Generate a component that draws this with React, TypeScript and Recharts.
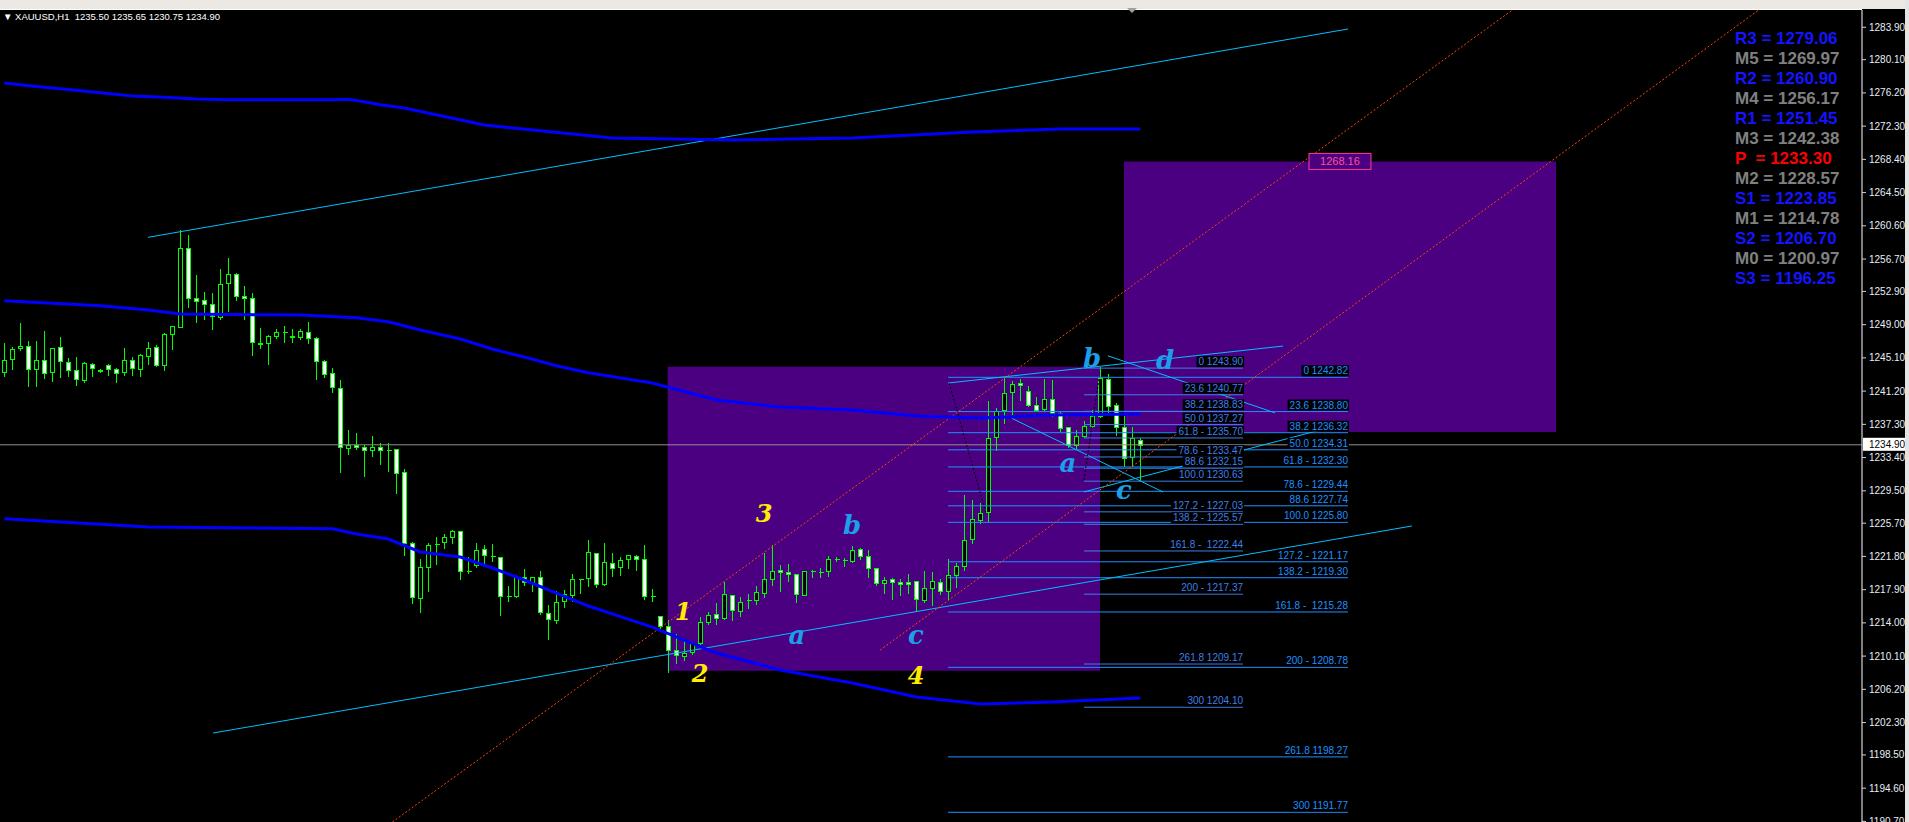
import React from 'react';
import {
  Bar,
  ComposedChart,
  Line,
  ReferenceArea,
  ReferenceDot,
  ReferenceLine,
  XAxis,
  YAxis,
} from 'recharts';

const W = 1909;
const H = 822;
const FONT = '"Liberation Sans", Arial, sans-serif';
const LIME = '#00ff00';
const YELLOW = '#ffec00';
const WAVE_BLUE = '#1c9ee8';
const CYAN = '#00bfff';
const FIB_A = '#3f7fe6';
const FIB_B = '#1e90ff';

// price window and bar-index window of the visible chart
const Y_MIN = 1190.63;
const Y_MAX = 1285.93;
const X_MIN = -0.5375;
const X_MAX = 232.2125;

const priceTicks = [
  1283.9, 1280.1, 1276.2, 1272.3, 1268.4, 1264.5, 1260.6, 1256.7, 1252.9, 1249.0, 1245.1, 1241.2,
  1237.3, 1233.4, 1229.5, 1225.7, 1221.8, 1217.9, 1214.0, 1210.1, 1206.2, 1202.3, 1198.5, 1194.6,
  1190.7,
];

// XAUUSD H1 bars: open, high, low, close
const ohlc: [number, number, number, number][] = [
  [1243.4, 1246.84, 1243.01, 1244.81],
  [1244.93, 1246.41, 1243.79, 1246.1],
  [1246.22, 1249.19, 1246.02, 1246.45],
  [1246.45, 1247.08, 1241.84, 1243.75],
  [1243.75, 1247.08, 1241.84, 1244.81],
  [1244.81, 1248.25, 1242.77, 1243.28],
  [1243.4, 1246.22, 1242.42, 1246.22],
  [1246.33, 1247.55, 1242.89, 1244.69],
  [1244.57, 1245.04, 1243.01, 1243.64],
  [1243.64, 1245.2, 1241.95, 1242.58],
  [1242.54, 1244.57, 1242.31, 1244.46],
  [1244.34, 1244.46, 1243.01, 1243.87],
  [1243.71, 1243.83, 1243.4, 1243.52],
  [1244.22, 1244.34, 1243.13, 1243.75],
  [1243.75, 1243.87, 1242.31, 1243.28],
  [1243.4, 1246.26, 1243.13, 1244.81],
  [1244.81, 1245.2, 1243.13, 1243.87],
  [1243.75, 1245.51, 1243.01, 1245.4],
  [1245.28, 1246.96, 1244.34, 1246.22],
  [1246.33, 1246.57, 1244.18, 1244.22],
  [1244.22, 1247.98, 1243.71, 1247.9],
  [1247.86, 1248.84, 1246.18, 1248.84],
  [1248.76, 1260.11, 1248.76, 1257.95],
  [1257.95, 1259.52, 1251.11, 1252.09],
  [1252.09, 1254.82, 1249.35, 1251.73],
  [1251.85, 1252.83, 1249.7, 1251.38],
  [1251.38, 1252.71, 1248.53, 1249.97],
  [1249.86, 1255.53, 1249.62, 1253.73],
  [1253.85, 1256.82, 1250.64, 1254.9],
  [1254.9, 1255.06, 1251.93, 1252.32],
  [1252.32, 1253.53, 1249.62, 1252.09],
  [1252.09, 1252.71, 1245.47, 1246.92],
  [1246.8, 1248.6, 1246.3, 1246.78],
  [1246.8, 1247.74, 1244.42, 1247.63],
  [1247.63, 1248.49, 1247.47, 1248.1],
  [1248.1, 1248.84, 1247.0, 1248.1],
  [1247.59, 1248.49, 1247.0, 1247.62],
  [1247.51, 1248.45, 1247.35, 1248.21],
  [1248.1, 1249.31, 1246.88, 1247.39],
  [1247.39, 1247.51, 1242.66, 1244.69],
  [1244.69, 1244.85, 1242.89, 1243.17],
  [1243.28, 1243.91, 1241.13, 1241.64],
  [1241.52, 1242.5, 1231.74, 1234.6],
  [1234.48, 1236.63, 1233.82, 1234.83],
  [1234.83, 1236.28, 1234.44, 1234.6],
  [1234.6, 1234.83, 1231.27, 1234.25],
  [1234.25, 1235.93, 1233.62, 1234.6],
  [1234.6, 1235.11, 1232.68, 1234.25],
  [1234.3, 1235.11, 1231.86, 1234.28],
  [1234.36, 1234.36, 1229.28, 1231.55],
  [1231.67, 1232.02, 1222.0, 1223.33],
  [1223.33, 1223.45, 1216.29, 1216.99],
  [1216.88, 1221.45, 1215.31, 1220.51],
  [1220.51, 1223.33, 1217.78, 1223.1],
  [1223.26, 1224.04, 1220.94, 1223.24],
  [1223.45, 1224.39, 1222.82, 1224.04],
  [1224.04, 1224.9, 1223.33, 1224.74],
  [1224.74, 1224.74, 1219.11, 1220.04],
  [1220.06, 1221.69, 1219.81, 1220.04],
  [1220.75, 1223.33, 1220.51, 1222.51],
  [1222.63, 1223.1, 1220.98, 1221.92],
  [1221.82, 1223.21, 1221.22, 1221.8],
  [1221.69, 1221.69, 1214.88, 1217.11],
  [1217.13, 1218.28, 1216.52, 1217.11],
  [1217.11, 1219.46, 1216.99, 1219.34],
  [1219.34, 1220.28, 1218.4, 1218.75],
  [1218.75, 1219.34, 1217.7, 1219.34],
  [1219.34, 1220.04, 1215.0, 1215.23],
  [1215.11, 1216.05, 1212.07, 1214.41],
  [1214.29, 1217.7, 1213.94, 1216.41],
  [1216.52, 1217.81, 1215.82, 1217.35],
  [1217.23, 1219.69, 1216.52, 1219.11],
  [1219.11, 1219.2, 1217.54, 1219.12],
  [1219.22, 1223.68, 1218.28, 1222.27],
  [1222.16, 1222.16, 1218.17, 1218.52],
  [1218.52, 1223.33, 1218.4, 1221.1],
  [1220.99, 1222.16, 1219.46, 1220.4],
  [1220.52, 1221.69, 1219.58, 1221.34],
  [1221.46, 1221.93, 1220.4, 1221.93],
  [1221.81, 1221.93, 1220.17, 1221.46],
  [1221.46, 1223.1, 1216.76, 1217.11],
  [1217.13, 1217.93, 1216.53, 1217.11],
  [1214.77, 1214.77, 1213.36, 1213.67],
  [1213.59, 1214.3, 1208.27, 1210.78],
  [1210.78, 1212.65, 1209.25, 1210.19],
  [1210.07, 1211.83, 1209.68, 1210.42],
  [1210.54, 1211.6, 1210.31, 1211.6],
  [1211.6, 1214.65, 1211.48, 1214.06],
  [1214.06, 1215.23, 1213.83, 1214.88],
  [1215.0, 1216.29, 1213.83, 1214.53],
  [1214.53, 1218.76, 1214.41, 1217.35],
  [1217.23, 1217.23, 1214.3, 1215.47],
  [1215.35, 1217.0, 1214.77, 1216.41],
  [1216.65, 1217.35, 1215.7, 1216.64],
  [1216.64, 1218.29, 1216.17, 1217.58],
  [1217.47, 1222.16, 1217.0, 1219.11],
  [1219.11, 1223.1, 1218.4, 1220.05],
  [1220.17, 1220.75, 1217.7, 1219.93],
  [1219.93, 1220.87, 1218.87, 1219.7],
  [1219.7, 1219.7, 1216.41, 1217.35],
  [1217.23, 1220.05, 1217.23, 1220.05],
  [1220.05, 1220.17, 1219.34, 1220.06],
  [1219.94, 1220.4, 1219.34, 1219.93],
  [1220.05, 1221.81, 1219.46, 1221.46],
  [1221.46, 1221.69, 1221.22, 1221.47],
  [1221.34, 1221.58, 1220.63, 1221.35],
  [1221.22, 1222.98, 1221.1, 1222.51],
  [1222.63, 1222.75, 1221.46, 1221.81],
  [1221.81, 1222.51, 1219.34, 1220.4],
  [1220.4, 1220.4, 1218.4, 1218.64],
  [1218.64, 1219.42, 1217.46, 1218.99],
  [1219.1, 1219.22, 1216.76, 1218.75],
  [1218.75, 1219.1, 1217.22, 1218.52],
  [1218.75, 1219.69, 1217.46, 1218.52],
  [1218.87, 1218.87, 1215.35, 1216.76],
  [1216.64, 1220.04, 1216.41, 1218.05],
  [1218.05, 1219.93, 1216.05, 1218.87],
  [1218.75, 1219.1, 1217.34, 1217.7],
  [1217.7, 1221.45, 1216.76, 1219.57],
  [1219.57, 1220.98, 1218.17, 1220.63],
  [1220.63, 1228.96, 1220.16, 1223.68],
  [1223.8, 1228.38, 1223.33, 1226.15],
  [1226.03, 1228.02, 1225.68, 1226.85],
  [1226.97, 1239.99, 1225.91, 1235.65],
  [1235.77, 1239.17, 1234.24, 1238.82],
  [1238.94, 1242.7, 1237.41, 1240.93],
  [1241.05, 1242.34, 1238.12, 1241.99],
  [1242.11, 1242.58, 1240.11, 1241.87],
  [1241.17, 1241.76, 1239.41, 1239.53],
  [1239.53, 1240.47, 1238.82, 1238.94],
  [1239.06, 1242.58, 1238.94, 1240.23],
  [1240.23, 1242.46, 1238.24, 1238.59],
  [1238.59, 1238.82, 1236.48, 1236.83],
  [1236.94, 1236.94, 1234.6, 1234.83],
  [1234.83, 1236.59, 1234.48, 1235.89],
  [1235.89, 1237.65, 1235.77, 1237.06],
  [1237.06, 1238.94, 1236.94, 1238.24],
  [1238.24, 1243.99, 1238.12, 1242.7],
  [1242.58, 1243.17, 1238.71, 1239.41],
  [1239.53, 1239.76, 1236.01, 1236.94],
  [1236.94, 1238.24, 1232.37, 1233.31],
  [1233.42, 1236.94, 1232.37, 1235.65],
  [1235.5, 1235.65, 1230.75, 1234.9],
];

// moving-average envelope, [bar index, price]
const maUpper: [number, number][] = [
  [0, 1277.36], [4, 1276.95], [8, 1276.6], [12, 1276.22], [16, 1275.83], [20, 1275.68],
  [24, 1275.48], [28, 1275.4], [41, 1275.4], [43, 1275.45], [45, 1275.17], [47, 1274.8],
  [50, 1274.43], [60, 1272.43], [76, 1270.9], [91, 1270.67], [106, 1270.9], [121, 1271.61],
  [132, 1271.96], [142, 1271.96],
];
const maMiddle: [number, number][] = [
  [0, 1251.81], [12, 1251.22], [18, 1250.72], [22, 1250.25], [37, 1250.13], [44, 1249.82],
  [48, 1249.35], [52, 1248.37], [57, 1247.31], [61, 1246.14], [65, 1245.2], [69, 1244.18],
  [73, 1243.36], [81, 1242.15], [89, 1240.16], [97, 1239.33], [106, 1238.98], [114, 1238.28],
  [122, 1238.04], [131, 1238.39], [142, 1238.51],
];
const maLower: [number, number][] = [
  [0, 1226.22], [18, 1225.25], [41, 1225.05], [44, 1224.43], [48, 1223.84], [52, 1222.32],
  [57, 1221.73], [61, 1220.44], [65, 1219.03], [69, 1217.5], [73, 1215.98], [81, 1213.51],
  [89, 1210.46], [97, 1208.47], [106, 1206.94], [114, 1205.3], [122, 1204.48], [131, 1204.71],
  [142, 1205.18],
];

// fibonacci sets: labels and prices, drawn between two bar indexes
const fibLabelsA = [
  '0 1243.90', '23.6 1240.77', '38.2 1238.83', '50.0 1237.27', '61.8 - 1235.70', '78.6 - 1233.47',
  '88.6 1232.15', '100.0 1230.63', '127.2 - 1227.03', '138.2 - 1225.57', '161.8 -  1222.44',
  '200 - 1217.37', '261.8 1209.17', '300 1204.10',
];
const fibPricesA = [
  1243.9, 1240.77, 1238.83, 1237.27, 1235.7, 1233.47, 1232.15, 1230.63, 1227.03, 1225.57, 1222.44,
  1217.37, 1209.17, 1204.1,
];
const fibSpanA: [number, number] = [134.96, 154.84];

const fibLabelsB = [
  '0 1242.82', '23.6 1238.80', '38.2 1236.32', '50.0 1234.31', '61.8 - 1232.30', '78.6 - 1229.44',
  '88.6 1227.74', '100.0 1225.80', '127.2 - 1221.17', '138.2 - 1219.30', '161.8 -  1215.28',
  '200 - 1208.78', '261.8 1198.27', '300 1191.77',
];
const fibPricesB = [
  1242.82, 1238.8, 1236.32, 1234.31, 1232.3, 1229.44, 1227.74, 1225.8, 1221.17, 1219.3, 1215.28,
  1208.78, 1198.27, 1191.77,
];
const fibSpanB: [number, number] = [117.97, 167.96];

// trend lines as [[i1, p1], [i2, p2]]
const cyanLines: [number, number][][] = [
  [[17.96, 1259.25], [167.96, 1283.7]],
  [[26.09, 1201.07], [175.96, 1225.37]],
  [[117.96, 1242.15], [159.84, 1246.49]],
  [[137.96, 1245.34], [158.83, 1238.65]],
  [[125.96, 1238.0], [144.84, 1229.36]],
  [[134.96, 1229.37], [166.96, 1237.24]],
];
const channelLines: [number, number][][] = [
  [[48.51, 1190.63], [188.51, 1285.93]],
  [[109.46, 1210.8], [219.3, 1285.93]],
];
const zigzagLines: [number, number][][] = [
  [[118.13, 1242.11], [122.71, 1226.85]],
  [[134.96, 1230.77], [136.84, 1242.7]],
];

// target zones: [i1, i2, p1, p2]
const zones: [number, number, number, number][] = [
  [82.92, 136.96, 1208.38, 1244.06],
  [139.96, 193.97, 1236.4, 1268.16],
];
const zoneTarget = 1268.16;

// Elliott wave marks: text, bar index, price
const waveDigits: [string, number, number][] = [
  ['1', 84.84, 1215.38],
  ['2', 86.96, 1208.1],
  ['3', 94.96, 1226.88],
  ['4', 113.96, 1207.87],
];
const waveLetters: [string, number, number][] = [
  ['a', 99.09, 1212.57],
  ['b', 105.96, 1225.48],
  ['c', 113.96, 1212.57],
  ['a', 132.96, 1232.76],
  ['b', 135.96, 1245.08],
  ['c', 139.96, 1229.6],
  ['d', 145.09, 1244.85],
];

const pivotNames = ['R3', 'M5', 'R2', 'M4', 'R1', 'M3', 'P', 'M2', 'S1', 'M1', 'S2', 'M0', 'S3'];
const pivotValues = [
  1279.06, 1269.97, 1260.9, 1256.17, 1251.45, 1242.38, 1233.3, 1228.57, 1223.85, 1214.78, 1206.7,
  1200.97, 1196.25,
];

const lastPrice = 1234.9;
const header = 'XAUUSD,H1  1235.50 1235.65 1230.75 1234.90';

type Row = {
  i: number;
  o: number;
  h: number;
  l: number;
  c: number;
  maU?: number;
  maM?: number;
  maL?: number;
};

const rows: Row[] = ohlc.map(([o, h, l, c], i) => ({ i, o, h, l, c }));
maUpper.forEach(([i, v]) => (rows[i].maU = v));
maMiddle.forEach(([i, v]) => (rows[i].maM = v));
maLower.forEach(([i, v]) => (rows[i].maL = v));

const charW: Record<string, number> = { '.': 0.278, ' ': 0.278, '-': 0.333 };
const textWidth = (s: string, size: number) =>
  s.split('').reduce((w, ch) => w + (charW[ch] ?? 0.556) * size, 0);

function Candle(props: any) {
  const { x, y, width, height, payload } = props;
  if (!payload || height == null) return null;
  const { o, h, l, c } = payload as Row;
  const top = height >= 0 ? y : y + height;
  const k = Math.abs(height) / (h - l);
  const py = (v: number) => top + (h - v) * k;
  const cx = Math.round(x + width / 2) + 0.5;
  const bTop = Math.round(py(Math.max(o, c))) + 0.5;
  const bBot = Math.round(py(Math.min(o, c))) + 0.5;
  return (
    <g shapeRendering="crispEdges">
      <line x1={cx} x2={cx} y1={Math.round(top)} y2={Math.round(py(l)) + 1} stroke={LIME} />
      {bBot - bTop < 1 ? (
        <line x1={cx - 2} x2={cx + 3} y1={bTop} y2={bTop} stroke={LIME} />
      ) : (
        <rect
          x={cx - 2}
          y={bTop}
          width={4}
          height={bBot - bTop}
          fill={c >= o ? '#000' : '#fff'}
          stroke={LIME}
        />
      )}
    </g>
  );
}

function PriceTick(props: any) {
  const { x, y, payload } = props;
  return (
    <g>
      <line x1={x} x2={x + 4} y1={y} y2={y} stroke="#d0d0d0" />
      <text x={x + 7} y={y + 3.5} fontSize={10} fill="#e8eef6" fontFamily={FONT}>
        {payload.value.toFixed(2)}
      </text>
    </g>
  );
}

const fibTag = (text: string, color: string) => (props: any) => {
  const { cx, cy } = props;
  const w = textWidth(text, 10);
  return (
    <g>
      <rect x={cx - w - 2} y={cy - 12} width={w + 3} height={11} fill="#000" />
      <text
        x={cx}
        y={cy - 3}
        textAnchor="end"
        fontSize={10}
        fill={color}
        fontFamily={FONT}
        style={{ whiteSpace: 'pre' }}
      >
        {text}
      </text>
    </g>
  );
};

const waveTag = (text: string, color: string, size: number) => (props: any) => (
  <text
    x={props.cx}
    y={props.cy}
    textAnchor="middle"
    dominantBaseline="central"
    fontSize={size}
    fontStyle="italic"
    fontWeight="bold"
    fontFamily='"DejaVu Serif", serif'
    fill={color}
  >
    {text}
  </text>
);

const targetTag = (props: any) => {
  const { cx, cy } = props;
  return (
    <g>
      <rect x={cx - 31} y={cy - 8} width={62} height={16} fill="#4b0082" stroke="#ff3c8c" />
      <text x={cx} y={cy + 4} textAnchor="middle" fontSize={11} fill="#ff4f9a" fontFamily={FONT}>
        {zoneTarget.toFixed(2)}
      </text>
    </g>
  );
};

const lastPriceTag = (props: any) => {
  const { cx, cy } = props;
  return (
    <g>
      <rect x={cx + 1} y={cy - 7} width={42} height={13} fill="#fff" />
      <text x={cx + 7} y={cy + 3.5} fontSize={10} fill="#000" fontFamily={FONT}>
        {lastPrice.toFixed(2)}
      </text>
    </g>
  );
};

const pivotColor = (name: string) =>
  name === 'P' ? '#ff0000' : name.startsWith('M') ? '#808080' : '#1414ff';

export default function App() {
  return (
    <div
      style={{
        position: 'fixed',
        left: 0,
        top: 0,
        width: W,
        height: H,
        background: '#000',
        overflow: 'hidden',
      }}
    >
      <ComposedChart
        width={W}
        height={H}
        data={rows}
        margin={{ top: 10, right: 0, bottom: 0, left: 0 }}
      >
        <XAxis
          dataKey="i"
          type="number"
          domain={[X_MIN, X_MAX]}
          allowDataOverflow
          hide
        />
        <YAxis
          orientation="right"
          width={47}
          domain={[Y_MIN, Y_MAX]}
          allowDataOverflow
          ticks={priceTicks}
          interval={0}
          tickSize={0}
          tickMargin={0}
          tick={<PriceTick />}
          axisLine={{ stroke: '#fff' }}
          tickLine={false}
        />

        {zones.map(([x1, x2, y1, y2], k) => (
          <ReferenceArea
            key={`z${k}`}
            x1={x1}
            x2={x2}
            y1={y1}
            y2={y2}
            fill="#4b0082"
            fillOpacity={1}
            stroke="none"
            ifOverflow="hidden"
          />
        ))}

        {fibPricesB.map((p, k) => (
          <ReferenceLine
            key={`fb${k}`}
            segment={[{ x: fibSpanB[0], y: p }, { x: fibSpanB[1], y: p }]}
            stroke={FIB_B}
            ifOverflow="hidden"
          />
        ))}
        {fibPricesA.map((p, k) => (
          <ReferenceLine
            key={`fa${k}`}
            segment={[{ x: fibSpanA[0], y: p }, { x: fibSpanA[1], y: p }]}
            stroke={FIB_A}
            ifOverflow="hidden"
          />
        ))}
        {fibPricesB.map((p, k) => (
          <ReferenceDot
            key={`fbl${k}`}
            x={fibSpanB[1]}
            y={p}
            r={1}
            ifOverflow="visible"
            shape={fibTag(fibLabelsB[k], FIB_B)}
          />
        ))}
        {fibPricesA.map((p, k) => (
          <ReferenceDot
            key={`fal${k}`}
            x={fibSpanA[1]}
            y={p}
            r={1}
            ifOverflow="visible"
            shape={fibTag(fibLabelsA[k], FIB_A)}
          />
        ))}

        <ReferenceLine y={lastPrice} stroke="#8f8f8f" ifOverflow="hidden" />

        {cyanLines.map(([a, b], k) => (
          <ReferenceLine
            key={`cy${k}`}
            segment={[{ x: a[0], y: a[1] }, { x: b[0], y: b[1] }]}
            stroke={CYAN}
            ifOverflow="hidden"
          />
        ))}
        {zigzagLines.map(([a, b], k) => (
          <ReferenceLine
            key={`zz${k}`}
            segment={[{ x: a[0], y: a[1] }, { x: b[0], y: b[1] }]}
            stroke="#000"
            strokeDasharray="2 2"
            ifOverflow="hidden"
          />
        ))}
        {channelLines.map(([a, b], k) => (
          <ReferenceLine
            key={`ch${k}`}
            segment={[{ x: a[0], y: a[1] }, { x: b[0], y: b[1] }]}
            stroke="#ff4500"
            strokeDasharray="2 2"
            ifOverflow="hidden"
          />
        ))}

        <Line dataKey="maU" stroke="#0000ff" strokeWidth={3} dot={false} connectNulls isAnimationActive={false} />
        <Line dataKey="maM" stroke="#0000ff" strokeWidth={3} dot={false} connectNulls isAnimationActive={false} />
        <Line dataKey="maL" stroke="#0000ff" strokeWidth={3} dot={false} connectNulls isAnimationActive={false} />

        <Bar
          dataKey={(d: Row) => [d.l, d.h]}
          barSize={5}
          shape={<Candle />}
          isAnimationActive={false}
        />

        {waveDigits.map(([t, x, y], k) => (
          <ReferenceDot key={`wd${k}`} x={x} y={y} r={1} ifOverflow="visible" shape={waveTag(t, YELLOW, 24)} />
        ))}
        {waveLetters.map(([t, x, y], k) => (
          <ReferenceDot key={`wl${k}`} x={x} y={y} r={1} ifOverflow="visible" shape={waveTag(t, WAVE_BLUE, 26)} />
        ))}
        <ReferenceDot x={166.96} y={zoneTarget} r={1} ifOverflow="visible" shape={targetTag} />
        <ReferenceDot x={X_MAX} y={lastPrice} r={1} ifOverflow="visible" shape={lastPriceTag} />
      </ComposedChart>

      {/* terminal toolbar strip and chart frame */}
      <div style={{ position: 'absolute', left: 0, top: 0, width: W, height: 9, background: '#ece9e4' }} />
      <div style={{ position: 'absolute', left: 0, top: 9, width: 1862, height: 1, background: '#fff' }} />
      <div style={{ position: 'absolute', left: 1905, top: 0, width: 4, height: H, background: '#e4e4e4' }} />
      <svg style={{ position: 'absolute', left: 1127, top: 8 }} width={10} height={6}>
        <polygon points="0,0 10,0 5,5" fill="#a0a0a0" />
      </svg>

      <div
        style={{
          position: 'absolute',
          left: 3,
          top: 11,
          color: '#fff',
          fontFamily: FONT,
          fontSize: 9.5,
          whiteSpace: 'pre',
          lineHeight: '12px',
        }}
      >
        {'\u25BC ' + header}
      </div>

      {pivotNames.map((n, k) => (
        <div
          key={n}
          style={{
            position: 'absolute',
            left: 1735,
            top: 29 + k * 20,
            color: pivotColor(n),
            fontFamily: FONT,
            fontWeight: 'bold',
            fontSize: 17,
            lineHeight: '20px',
            whiteSpace: 'pre',
          }}
        >
          {`${n.padEnd(2, ' ')} = ${pivotValues[k].toFixed(2)}`}
        </div>
      ))}
    </div>
  );
}
